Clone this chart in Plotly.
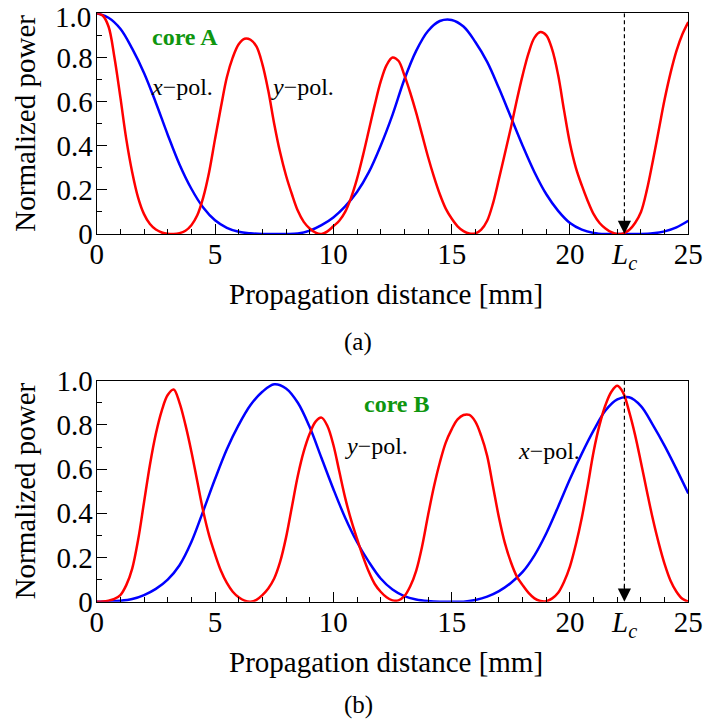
import plotly.graph_objects as go

W, H = 704, 727

# ---------------- data ----------------
# core A, x-pol (blue), sampled every 0.5 mm
a_xpol_z = [0, 0.5, 1, 1.5, 2, 2.5, 3, 3.5, 4, 4.5, 5, 5.5, 6, 6.5, 7, 7.5, 8, 8.5, 9, 9.5,
            10, 10.5, 11, 11.5, 12, 12.5, 13, 13.5, 14, 14.5, 15, 15.5, 16, 16.5, 17, 17.5,
            18, 18.5, 19, 19.5, 20, 20.5, 21, 21.5, 22, 22.5, 23, 23.5, 24, 24.5, 25]
a_xpol_p = [1.0, 0.98, 0.93, 0.84, 0.73, 0.595, 0.45, 0.315, 0.205, 0.12, 0.062, 0.028, 0.01,
            0.003, 0.0, 0.0, 0.0, 0.002, 0.015, 0.04, 0.075, 0.125, 0.19, 0.28, 0.40, 0.54, 0.70,
            0.83, 0.92, 0.965, 0.97, 0.94, 0.87, 0.78, 0.66, 0.53, 0.40, 0.28, 0.18, 0.105, 0.05,
            0.02, 0.005, 0.0, 0.0, 0.0, 0.0, 0.003, 0.012, 0.03, 0.06]

# core A, y-pol (red), sampled every 0.25 mm
a_ypol_z = [0, 0.25, 0.5, 0.75, 1, 1.25, 1.5, 1.75, 2, 2.25, 2.5, 2.75, 3, 3.25, 3.5, 3.75,
            4, 4.25, 4.5, 4.75, 5, 5.25, 5.5, 5.75, 6, 6.25, 6.5, 6.75, 7, 7.25, 7.5, 7.75,
            8, 8.25, 8.5, 8.75, 9, 9.25, 9.5, 9.75, 10, 10.25, 10.5, 10.75, 11, 11.25, 11.5,
            11.75, 12, 12.25, 12.5, 12.75, 13, 13.25, 13.5, 13.75, 14, 14.25, 14.5, 14.75, 15,
            15.25, 15.5, 15.75, 16, 16.25, 16.5, 16.75, 17, 17.25, 17.5, 17.75, 18, 18.25, 18.5,
            18.75, 19, 19.25, 19.5, 19.75, 20, 20.25, 20.5, 20.75, 21, 21.25, 21.5, 21.75, 22,
            22.25, 22.5, 22.75, 23, 23.25, 23.5, 23.75, 24, 24.25, 24.5, 24.75, 25]
a_ypol_p = [1.0, 0.99, 0.94, 0.80, 0.62, 0.43, 0.28, 0.165, 0.09, 0.045, 0.02, 0.007, 0.001,
            0.0, 0.004, 0.015, 0.04, 0.085, 0.165, 0.28, 0.43, 0.575, 0.71, 0.80, 0.86, 0.885,
            0.88, 0.85, 0.77, 0.65, 0.50, 0.37, 0.265, 0.18, 0.105, 0.055, 0.025, 0.006, 0.0,
            0.012, 0.035, 0.06, 0.10, 0.165, 0.25, 0.355, 0.47, 0.585, 0.69, 0.765, 0.80, 0.785,
            0.72, 0.64, 0.55, 0.45, 0.35, 0.26, 0.18, 0.115, 0.07, 0.035, 0.013, 0.002, 0.003,
            0.02, 0.06, 0.14, 0.25, 0.365, 0.48, 0.605, 0.72, 0.82, 0.89, 0.915, 0.90, 0.835,
            0.72, 0.56, 0.41, 0.30, 0.22, 0.15, 0.09, 0.05, 0.025, 0.008, 0.0, 0.003, 0.018,
            0.05, 0.10, 0.20, 0.33, 0.47, 0.61, 0.73, 0.83, 0.905, 0.96]

# core B, x-pol (blue), sampled every 0.5 mm
b_xpol_z = [0, 0.5, 1, 1.5, 2, 2.5, 3, 3.5, 4, 4.5, 5, 5.5, 6, 6.5, 7, 7.5, 8, 8.5, 9, 9.5,
            10, 10.5, 11, 11.5, 12, 12.5, 13, 13.5, 14, 14.5, 15, 15.5, 16, 16.5, 17, 17.5,
            18, 18.5, 19, 19.5, 20, 20.5, 21, 21.5, 22, 22.5, 23, 23.5, 24, 24.5, 25]
b_xpol_p = [0.0, 0.001, 0.004, 0.012, 0.03, 0.058, 0.10, 0.165, 0.27, 0.41, 0.555, 0.69, 0.80,
            0.89, 0.95, 0.984, 0.965, 0.90, 0.79, 0.65, 0.51, 0.38, 0.27, 0.18, 0.105, 0.055,
            0.025, 0.01, 0.003, 0.0, 0.0, 0.0, 0.008, 0.023, 0.048, 0.085, 0.135, 0.21, 0.31,
            0.43, 0.555, 0.67, 0.775, 0.865, 0.915, 0.925, 0.885, 0.80, 0.705, 0.60, 0.49]

# core B, y-pol (red), sampled every 0.25 mm
b_ypol_z = a_ypol_z
b_ypol_p = [0.0, 0.001, 0.005, 0.013, 0.03, 0.075, 0.15, 0.28, 0.45, 0.62, 0.76, 0.865, 0.935,
            0.96, 0.90, 0.80, 0.68, 0.545, 0.41, 0.30, 0.215, 0.14, 0.085, 0.045, 0.02, 0.005,
            0.0, 0.008, 0.03, 0.06, 0.105, 0.18, 0.29, 0.43, 0.57, 0.68, 0.76, 0.815, 0.833,
            0.795, 0.71, 0.59, 0.47, 0.37, 0.285, 0.205, 0.135, 0.08, 0.045, 0.02, 0.006, 0.006,
            0.025, 0.07, 0.14, 0.25, 0.39, 0.52, 0.63, 0.72, 0.78, 0.825, 0.845, 0.845, 0.815,
            0.75, 0.66, 0.52, 0.38, 0.265, 0.18, 0.115, 0.075, 0.04, 0.015, 0.003, 0.002, 0.015,
            0.04, 0.09, 0.16, 0.26, 0.38, 0.525, 0.68, 0.80, 0.89, 0.95, 0.977, 0.945, 0.86,
            0.755, 0.63, 0.50, 0.375, 0.265, 0.17, 0.095, 0.045, 0.013, 0.0]

Lc = 22.3
x_ticks = [0, 5, 10, 15, 20, 25]
x_tick_text = ["0", "5", "10", "15", "20", "25"]
y_ticks = [0, 0.2, 0.4, 0.6, 0.8, 1.0]
y_tick_text = ["0", "0.2", "0.4", "0.6", "0.8", "1.0"]

# ---------------- layout helpers ----------------
FONT = "Liberation Serif"
BLUE, RED, GREEN = "#0000ff", "#ff0000", "#0f960f"


def px(x):
    return x / W


def py(y):
    return 1 - y / H


plot_left, plot_right = 96.7, 688.3
top_t, top_b = 13.3, 234.0
bot_t, bot_b = 380.7, 601.7

fig = go.Figure()

line_kw = dict(mode="lines", line_shape="spline", hoverinfo="skip", showlegend=False)
series = [
    (a_xpol_z, a_xpol_p, BLUE, "x", "y"),
    (a_ypol_z, a_ypol_p, RED, "x", "y"),
    (b_xpol_z, b_xpol_p, BLUE, "x2", "y2"),
    (b_ypol_z, b_ypol_p, RED, "x2", "y2"),
]
for zz, pp, col, xa, ya in series:
    fig.add_trace(go.Scatter(x=zz, y=pp, line=dict(color=col, width=2.5, smoothing=1.0),
                             xaxis=xa, yaxis=ya, **line_kw))

axis_common = dict(
    showgrid=False, zeroline=False, showline=True, linecolor="black", linewidth=1.3,
    mirror=True, ticks="inside", ticklen=10, tickwidth=1.3, tickcolor="black",
    automargin=False, ticklabeloverflow="allow",
    tickfont=dict(family=FONT, size=29, color="black"),
)
xaxis_common = dict(axis_common, range=[0, 25], tickmode="array", tickvals=x_ticks,
                    ticktext=x_tick_text, ticklabelstandoff=-6,
                    minor=dict(ticks="inside", ticklen=5, dtick=1, tickwidth=1.3,
                               tickcolor="black", showgrid=False))
yaxis_common = dict(axis_common, range=[0, 1], tickmode="array", tickvals=y_ticks,
                    ticklabelstandoff=-3,
                    minor=dict(ticks="inside", ticklen=5, dtick=0.1, tick0=0, tickwidth=1.3,
                               tickcolor="black", showgrid=False))

# the top panel's "1.0" sits against the page edge: it is drawn as a top-anchored text below
top_y_text = y_tick_text[:-1] + [""]

fig.update_layout(
    width=W, height=H, margin=dict(l=0, r=0, t=0, b=0, autoexpand=False),
    paper_bgcolor="white", plot_bgcolor="white",
    xaxis=dict(xaxis_common, domain=[px(plot_left), px(plot_right)], anchor="y"),
    yaxis=dict(yaxis_common, ticktext=top_y_text, domain=[py(top_b), py(top_t)], anchor="x"),
    xaxis2=dict(xaxis_common, domain=[px(plot_left), px(plot_right)], anchor="y2"),
    yaxis2=dict(yaxis_common, ticktext=y_tick_text, domain=[py(bot_b), py(bot_t)],
                anchor="x2"),
)

# dashed Lc markers with arrowheads
for xr, yr in (("x", "y"), ("x2", "y2")):
    fig.add_shape(type="line", xref=xr, yref=yr, x0=Lc, x1=Lc, y0=1.0, y1=0.06,
                  line=dict(color="black", width=1.2, dash="4px,3px"))
    fig.add_annotation(xref=xr, yref=yr, x=Lc, y=0.0, axref=xr, ayref=yr, ax=Lc, ay=0.08,
                       showarrow=True, arrowhead=2, arrowsize=2.2, arrowwidth=1.2,
                       arrowcolor="black", standoff=0, text="")

ann = []


def text(x, y, s, size, color="black", **kw):
    base = dict(x=px(x), y=py(y), xref="paper", yref="paper", text=s, showarrow=False,
                font=dict(family=FONT, size=size, color=color), xanchor="center",
                yanchor="middle")
    base.update(kw)
    ann.append(base)


# top-panel "1.0" tick label
text(92.5, 0, y_tick_text[-1], 29, xanchor="right", yanchor="top", borderpad=0)

for off in (0, bot_b - top_b):
    text(386.5, 294 + off, "Propagation distance [mm]", 29)
    text(25, (top_t + top_b) / 2 + off, "Normalized power", 29, textangle=-90)
    ann.append(dict(x=Lc, y=py(256 + off), xref="x" if off == 0 else "x2", yref="paper",
                    text="<i>L</i><sub><i>c</i></sub>", showarrow=False,
                    font=dict(family=FONT, size=29, color="black"),
                    xanchor="center", yanchor="middle"))

text(358, 342, "(a)", 25)
text(358, 705, "(b)", 25)
text(185, 37, "<b>core A</b>", 24, GREEN)
text(182, 87, "<i>x</i>\u2212pol.", 24)
text(302, 87, "<i>y</i>\u2212pol.", 24)
text(397, 404, "<b>core B</b>", 24, GREEN)
text(376, 446, "<i>y</i>\u2212pol.", 24)
text(549, 451, "<i>x</i>\u2212pol.", 24)

for a in ann:
    fig.add_annotation(**a)

fig.write_html("out.html")
